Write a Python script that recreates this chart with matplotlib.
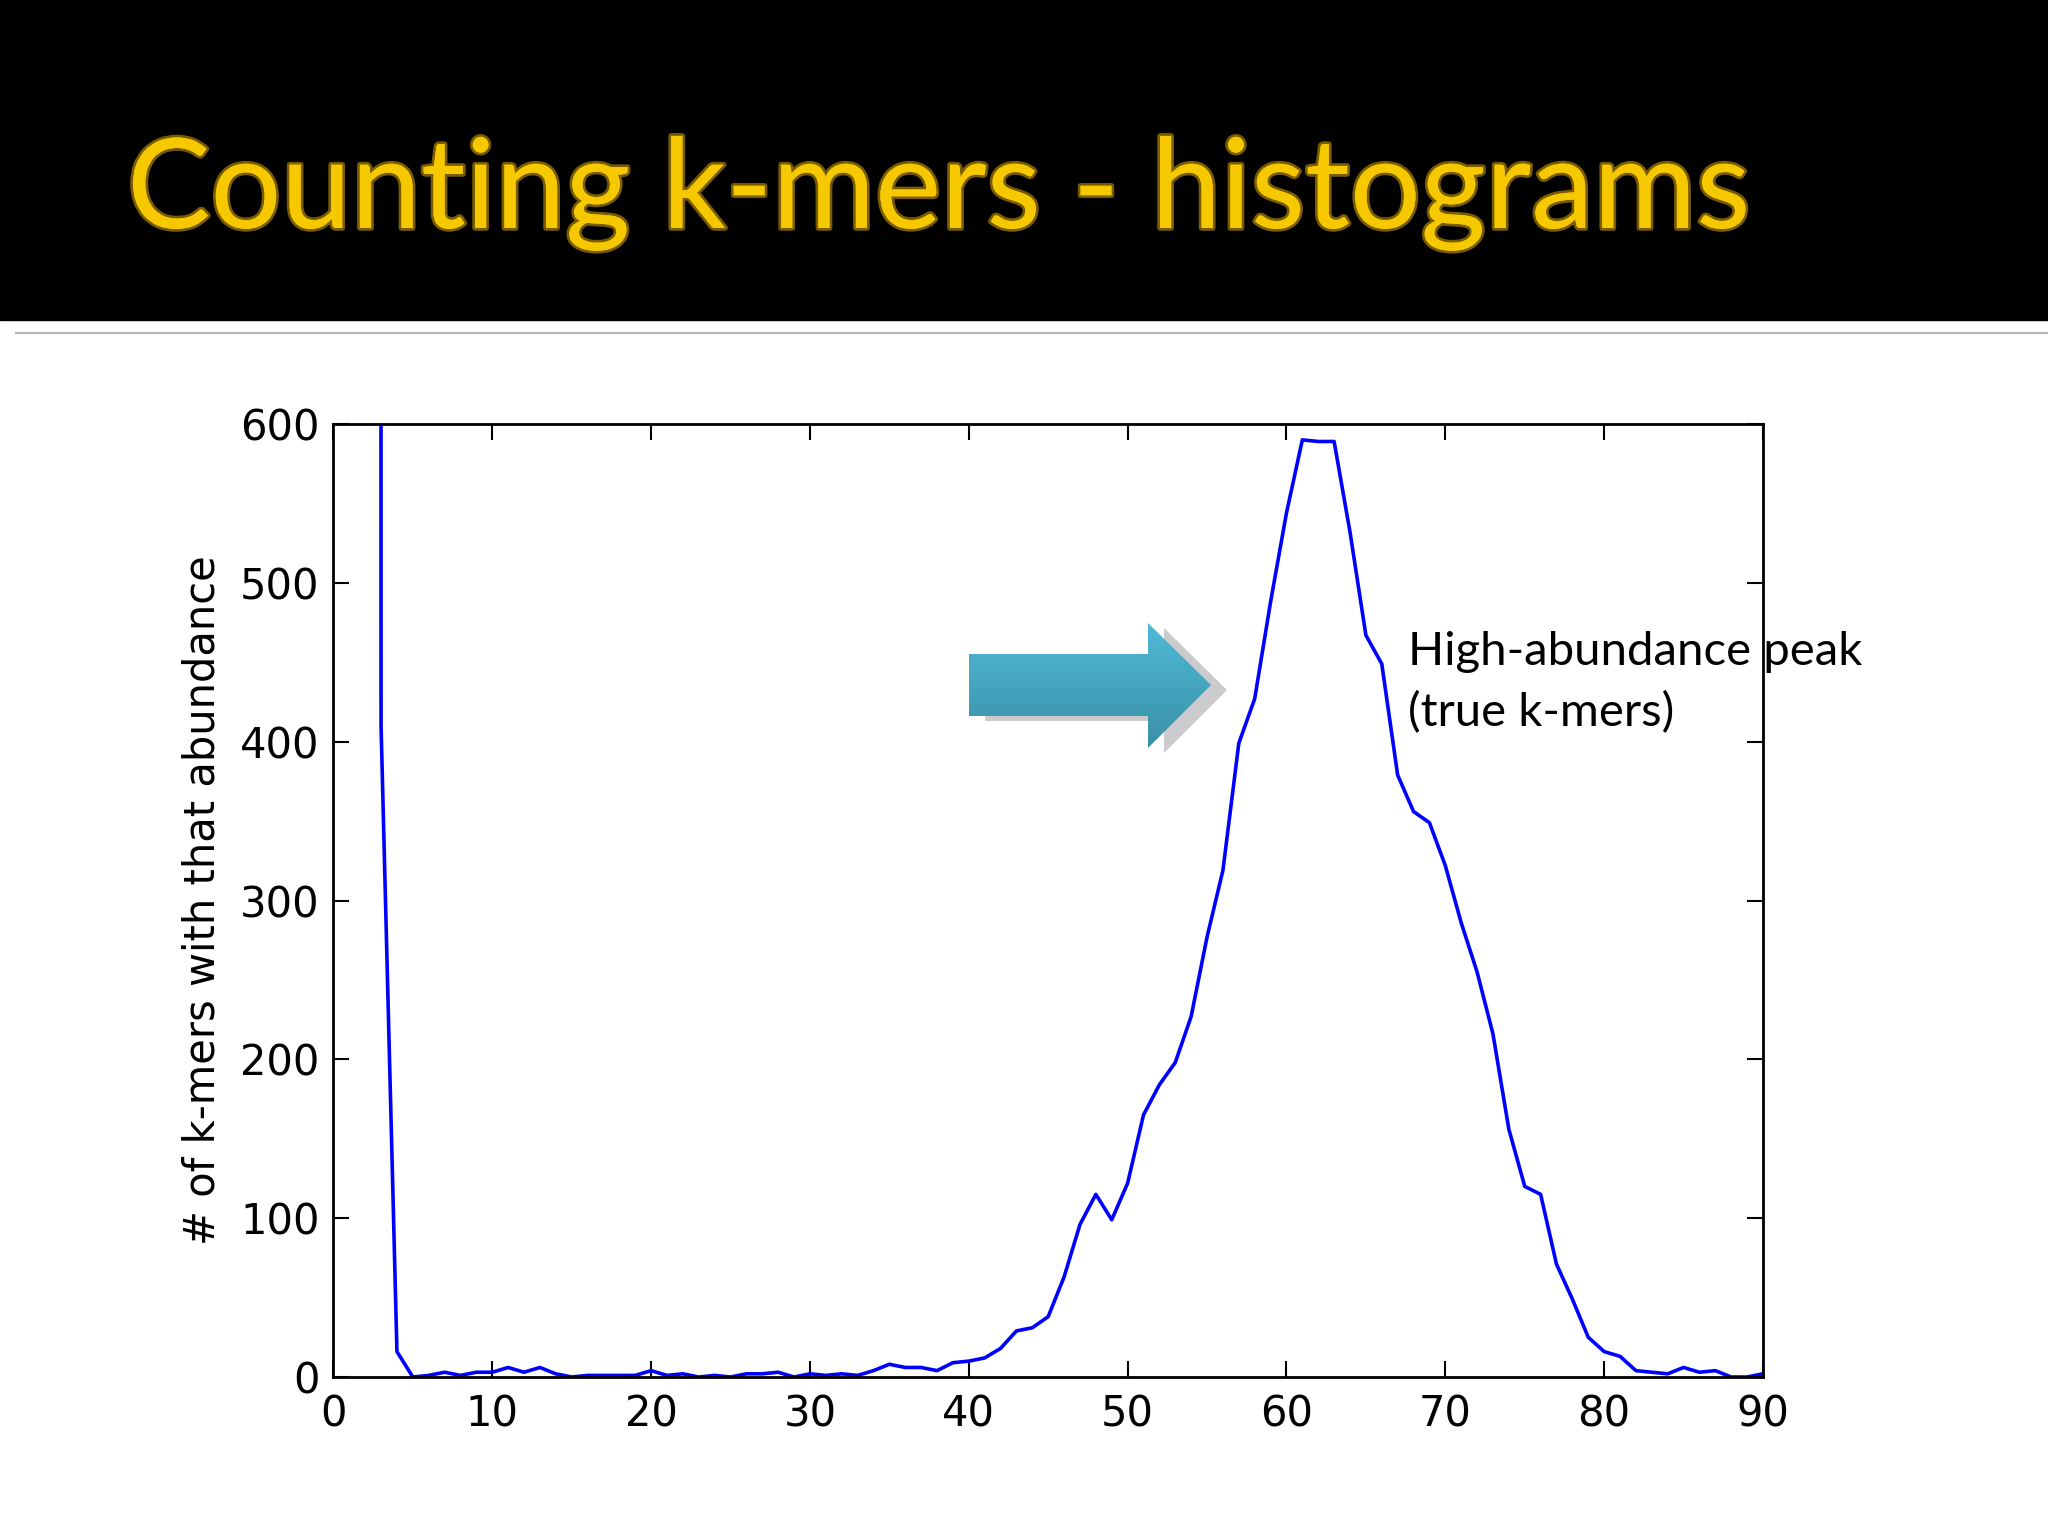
import numpy as np
import matplotlib
matplotlib.use("Agg")
import matplotlib.pyplot as plt
import matplotlib.patheffects as pe
from matplotlib.patches import Polygon, Rectangle
from matplotlib.lines import Line2D

# k-mer abundance histogram
abundance = np.arange(1, 91)
counts = [250000, 60000, 410, 16, 0, 1, 3, 1, 3, 3,
          6, 3, 6, 2, 0, 1, 1, 1, 1, 4,
          1, 2, 0, 1, 0, 2, 2, 3, 0, 2,
          1, 2, 1, 4, 8, 6, 6, 4, 9, 10,
          12, 18, 29, 31, 38, 63, 96, 115, 99, 122,
          165, 184, 198, 227, 277, 319, 399, 427, 488, 544,
          590, 589, 589, 532, 467, 449, 379, 356, 349, 322,
          286, 255, 216, 156, 120, 115, 71, 49, 25, 16,
          13, 4, 3, 2, 6, 3, 4, 0, 0, 2]

xticks = [0, 10, 20, 30, 40, 50, 60, 70, 80, 90]
yticks = [0, 100, 200, 300, 400, 500, 600]

title = "Counting k-mers - histograms"
ylabel = "# of k-mers with that abundance"
note = ["High-abundance peak", "(true k-mers)"]

W, H = 2048, 1536
fig = plt.figure(figsize=(W / 100, H / 100), dpi=100)
fig.patch.set_facecolor("white")

# slide header
fig.patches.append(Rectangle((0, 1 - 320 / H), 1, 320 / H, color="black",
                             transform=fig.transFigure, zorder=0))
fig.lines.append(Line2D([16 / W, 1], [1 - 333 / H] * 2, color="#b8b8b8",
                        lw=1.6, transform=fig.transFigure))
fig.text(127 / W, 1 - 228 / H, title, family="Lato", fontsize=90,
         color="#f6c800", ha="left", va="baseline",
         path_effects=[pe.withStroke(linewidth=4, foreground="#7a5c00"),
                       pe.Normal()])

# the chart
ax = fig.add_axes([333.4 / W, 1 - 1377 / H, (1763 - 333.4) / W, (1377 - 424) / H])
ax.plot(abundance, counts, color="#0000ff", lw=2.6)
ax.set_xlim(0, 90)
ax.set_ylim(0, 600)
ax.set_xticks(xticks)
ax.set_yticks(yticks)
ax.tick_params(direction="in", length=11.5, width=1.5, top=True, right=True,
               labelsize=30, pad=10)
ax.tick_params(axis="x", pad=12)
for s in ax.spines.values():
    s.set_linewidth(2)
ax.set_ylabel(ylabel, fontsize=30, labelpad=12)

# overlay for the arrow callout, in pixel units
ov = fig.add_axes([0, 0, 1, 1], zorder=5)
ov.set_xlim(0, W)
ov.set_ylim(H, 0)
ov.axis("off")
arrow = np.array([[969, 654], [1148, 654], [1148, 623], [1211, 685],
                  [1148, 748], [1148, 716], [969, 716]])
shadow = arrow + np.array([16, 5])
ov.add_patch(Polygon(shadow, closed=True, color="#cbcbcd", lw=0, zorder=1))
body = Polygon(arrow, closed=True, facecolor="none", lw=0, zorder=2)
ov.add_patch(body)
grad = np.linspace(0, 1, 256)[:, None]
cmap = matplotlib.colors.LinearSegmentedColormap.from_list("teal", ["#4fbad7", "#3a90a6"])
img = ov.imshow(grad, cmap=cmap, extent=[969, 1211, 748, 623], aspect="auto", zorder=3)
img.set_clip_path(body)
ov.set_xlim(0, W)
ov.set_ylim(H, 0)

for i, line in enumerate(note):
    fig.text(1408 / W, 1 - (665 + 61 * i) / H, line, family="Lato", fontsize=34,
             color="black", ha="left", va="baseline", zorder=6)

fig.savefig("out.png", dpi=100, facecolor=fig.get_facecolor())
